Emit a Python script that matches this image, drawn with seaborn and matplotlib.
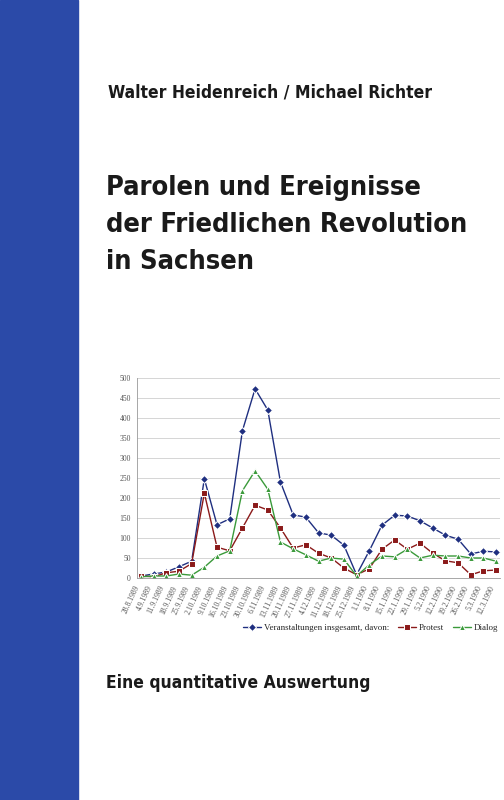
import pandas as pd
import matplotlib.pyplot as plt
import seaborn as sns
from matplotlib.patches import Rectangle

dates = ["28.8.1989", "4.9.1989", "11.9.1989", "18.9.1989", "25.9.1989", "2.10.1989",
         "9.10.1989", "16.10.1989", "23.10.1989", "30.10.1989", "6.11.1989", "13.11.1989",
         "20.11.1989", "27.11.1989", "4.12.1989", "11.12.1989", "18.12.1989", "25.12.1989",
         "1.1.1990", "8.1.1990", "15.1.1990", "22.1.1990", "29.1.1990", "5.2.1990",
         "12.2.1990", "19.2.1990", "26.2.1990", "5.3.1990", "12.3.1990"]
total = [5, 10, 15, 28, 42, 248, 133, 148, 368, 473, 420, 240, 158, 152, 113, 107, 82, 8,
         68, 132, 157, 155, 143, 125, 107, 97, 60, 67, 65]
protest = [5, 3, 13, 17, 36, 212, 77, 68, 125, 182, 170, 125, 75, 83, 62, 50, 25, 8,
           23, 72, 95, 72, 87, 62, 43, 38, 8, 18, 20]
dialog = [3, 5, 5, 10, 7, 27, 55, 68, 218, 268, 222, 90, 73, 58, 42, 50, 47, 5,
          33, 55, 53, 72, 50, 57, 55, 55, 50, 50, 42]

names = ["Veranstaltungen insgesamt, davon:", "Protest", "Dialog"]
df = pd.DataFrame({"Datum": list(range(len(dates))) * 3,
                   "Wert": total + protest + dialog,
                   "Reihe": [n for n in names for _ in dates]})

sns.set_style("white")
fig = plt.figure(figsize=(5.04, 8), dpi=100)
fig.patches.append(Rectangle((0, 0), 78 / 504, 1, transform=fig.transFigure,
                             color="#2b4aa8", zorder=0))

bold = dict(family="DejaVu Sans", stretch="condensed", weight="bold", color="#1a1a1a")
fig.text(0.215, 0.878, "Walter Heidenreich / Michael Richter", fontsize=12.5, **bold)
for i, line in enumerate(["Parolen und Ereignisse", "der Friedlichen Revolution", "in Sachsen"]):
    fig.text(0.21, 0.756 - i * 0.046, line, fontsize=19.5, **bold)
fig.text(0.21, 0.14, "Eine quantitative Auswertung", fontsize=12.5, **bold)

ax = fig.add_axes([0.272, 0.2775, 0.72, 0.25])
sns.lineplot(data=df, x="Datum", y="Wert", hue="Reihe", style="Reihe",
             palette=["#1f2f80", "#8b1a1a", "#3a9a3a"], markers=["D", "s", "^"],
             dashes=False, markersize=4, linewidth=1, ax=ax, legend=True)
ax.set_ylim(0, 500)
ax.set_xlim(-0.3, len(dates) - 0.7)
ax.set_yticks(range(0, 501, 50))
ax.set_xticks(range(len(dates)))
serif = "Liberation Serif"
ax.set_xticklabels(dates, rotation=65, ha="right", fontsize=5.5, family=serif, color="#555")
ax.tick_params(axis="y", labelsize=5.5, labelcolor="#555", pad=1)
ax.tick_params(axis="x", pad=1)
for t in ax.get_yticklabels():
    t.set_family(serif)
ax.yaxis.grid(True, color="#cfcfcf", linewidth=0.6)
ax.set_xlabel("")
ax.set_ylabel("")
for s in ["top", "right"]:
    ax.spines[s].set_visible(False)
for s in ["left", "bottom"]:
    ax.spines[s].set_color("#999")
    ax.spines[s].set_linewidth(0.6)
leg = ax.legend(loc="upper left", bbox_to_anchor=(0.27, -0.19), ncol=3, frameon=False,
                prop={"family": serif, "size": 6.5}, handlelength=2, columnspacing=1,
                handletextpad=0.3)
fig.savefig("out.png", dpi=100)
